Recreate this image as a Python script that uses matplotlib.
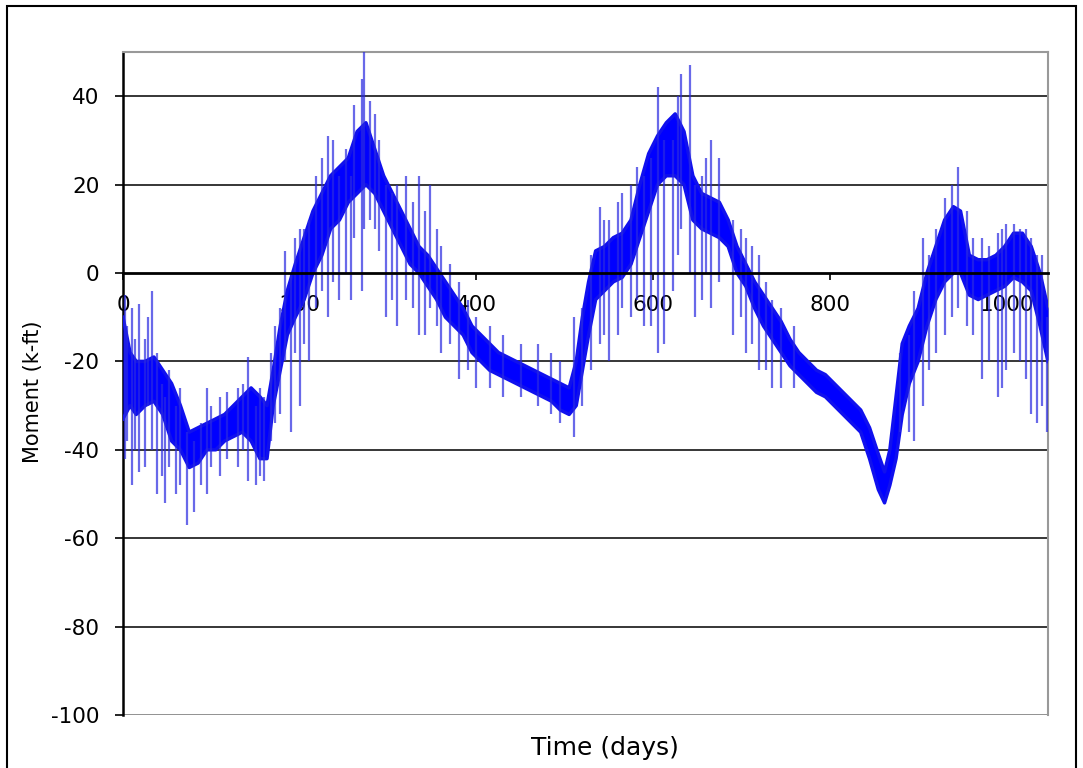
import numpy as np
import matplotlib
matplotlib.use("Agg")
import matplotlib.pyplot as plt
from matplotlib.patches import Rectangle

plt.rcParams['font.family'] = ['DejaVu Sans']
plt.rcParams['axes.unicode_minus'] = False

# envelope of the dense moment record
days = [0, 8, 15, 25, 35, 45, 55, 65, 75, 85, 95, 105, 115, 125, 135, 145, 155,
        163, 170, 178, 186, 195, 205, 215, 225, 235, 245, 255, 265, 275, 285,
        295, 305, 315, 325, 335, 345, 355, 365, 375, 385, 395, 405, 415, 425,
        435, 445, 455, 465, 475, 485, 495, 505, 513, 520, 527, 535, 545, 555,
        565, 575, 585, 595, 605, 615, 625, 635, 645, 655, 665, 675, 685, 695,
        705, 715, 725, 735, 745, 755, 765, 775, 785, 795, 805, 815, 825, 835,
        845, 855, 862, 868, 875, 882, 890, 900, 910, 920, 930, 940, 948, 958,
        968, 978, 988, 998, 1008, 1018, 1028, 1038, 1047]
lower = [-33, -30, -32, -30, -29, -32, -38, -40, -44, -43, -40, -40, -38, -37,
         -36, -38, -42, -42, -30, -22, -14, -10, -6, 0, 4, 10, 12, 16, 18, 20,
         18, 14, 10, 6, 2, 0, -3, -6, -10, -12, -14, -18, -20, -22, -23, -24,
         -25, -26, -27, -28, -29, -31, -32, -30, -22, -14, -6, -4, -2, -1, 2,
         8, 14, 20, 22, 22, 20, 12, 10, 9, 8, 6, 0, -3, -8, -12, -15, -18, -21,
         -23, -25, -27, -28, -30, -32, -34, -36, -42, -49, -52, -48, -42, -32,
         -25, -20, -12, -6, -2, 0, 0, -5, -6, -5, -4, -3, -1, -2, -4, -12, -20]
upper = [-10, -18, -20, -20, -19, -22, -25, -30, -36, -35, -34, -33, -32, -30,
         -28, -26, -28, -30, -22, -12, -4, 2, 8, 14, 18, 22, 24, 26, 32, 34,
         28, 22, 18, 14, 10, 6, 4, 1, -2, -5, -8, -12, -14, -16, -18, -19, -20,
         -21, -22, -23, -24, -25, -26, -20, -10, -2, 5, 6, 8, 9, 12, 20, 27,
         31, 34, 36, 32, 22, 18, 17, 16, 12, 6, 2, -2, -5, -8, -11, -15, -18,
         -20, -22, -23, -25, -27, -29, -31, -35, -41, -45, -40, -28, -16, -12,
         -8, 0, 6, 12, 15, 14, 4, 3, 3, 4, 6, 9, 9, 6, 0, -8]

# isolated spikes: day, low, high
spike_day = [2, 5, 10, 14, 18, 25, 28, 33, 38, 44, 48, 52, 60, 65, 72, 80, 88,
             95, 100, 110, 118, 130, 136, 142, 150, 155, 160, 168, 172, 178,
             183, 190, 195, 200, 205, 210, 218, 225, 232, 238, 245, 252, 258,
             262, 270, 273, 280, 285, 290, 298, 305, 310, 320, 328, 335, 342,
             348, 355, 360, 370, 380, 390, 400, 415, 430, 450, 470, 485, 495,
             510, 520, 530, 540, 545, 550, 560, 565, 575, 582, 590, 598, 605,
             612, 622, 628, 632, 642, 648, 655, 660, 665, 675, 690, 700, 705,
             712, 720, 728, 735, 745, 760, 880, 890, 895, 905, 912, 920, 930,
             938, 945, 955, 962, 972, 980, 990, 995, 1000, 1008, 1015, 1022,
             1028, 1035, 1040, 1046]
spike_low = [-42, -38, -48, -40, -45, -44, -30, -40, -50, -46, -52, -44, -50,
             -48, -57, -54, -48, -50, -44, -46, -42, -44, -40, -47, -48, -46,
             -47, -38, -34, -32, -20, -36, -18, -30, -16, -20, -8, -4, -10, -2,
             -6, 0, -6, 8, -4, 10, 12, 10, 5, -10, -6, -12, -6, -8, -14, -14,
             -8, -12, -18, -16, -24, -22, -26, -26, -28, -28, -30, -32, -34,
             -37, -30, -22, -16, -14, -20, -14, -8, -10, -6, -12, -12, -18, -16,
             -4, 4, 10, 0, -10, -6, 0, -8, -2, -14, -10, -18, -16, -22, -22,
             -26, -26, -26, -36, -36, -38, -30, -22, -18, -14, -10, -8, -12,
             -14, -24, -20, -28, -26, -22, -18, -20, -24, -32, -34, -30, -36]
spike_high = [-5, -12, -8, -15, -7, -15, -10, -4, -18, -25, -28, -22, -30, -26,
              -36, -38, -34, -26, -30, -28, -27, -26, -25, -19, -30, -26, -28,
              -18, -12, -8, 5, 0, 8, 10, 10, 12, 22, 26, 31, 30, 22, 28, 22,
              38, 44, 50, 39, 36, 30, 20, 18, 20, 22, 16, 22, 14, 20, 10, 6, 2,
              -2, -6, -10, -12, -14, -16, -16, -18, -20, -10, -8, 4, 15, 12, 12,
              16, 18, 20, 24, 22, 26, 42, 30, 30, 40, 45, 47, 20, 22, 26, 30,
              26, 12, 10, 8, 6, 4, -2, -6, -8, -12, -18, -14, -4, 8, 4, 10, 17,
              20, 24, 14, 8, 8, 6, 9, 10, 11, 11, 10, 10, 8, 4, 4, -10]

fig = plt.figure(figsize=(10.83, 7.68), dpi=100)
ax = fig.add_axes([123 / 1083, 1 - 715 / 768, 925 / 1083, 663 / 768])

ax.fill_between(days, lower, upper, color='#0000ff', lw=0, zorder=3)
ax.plot(days, lower, color='#1010ee', lw=2.5, zorder=3)
ax.plot(days, upper, color='#1010ee', lw=2.5, zorder=3)
ax.vlines(spike_day, spike_low, spike_high, color='#2a2ae0', lw=1.6,
          alpha=0.7, zorder=3)

ax.set_xlim(0, 1047)
ax.set_ylim(-100, 50)

for yv in [40, 20, -20, -40, -60, -80]:
    ax.axhline(yv, color='black', lw=1.1, zorder=1)
ax.axhline(-100, color='#888888', lw=2, zorder=1)

ax.spines['bottom'].set_position(('data', 0))
ax.spines['bottom'].set_linewidth(2)
ax.spines['bottom'].set_zorder(4)
ax.spines['left'].set_linewidth(1.8)
for s in ['top', 'right']:
    ax.spines[s].set_color('#999999')
    ax.spines[s].set_linewidth(1.5)

ax.set_xticks([0, 200, 400, 600, 800, 1000])
ax.set_yticks([-100, -80, -60, -40, -20, 0, 20, 40])
ax.tick_params(axis='x', direction='out', length=5, width=1.2, pad=11,
               labelsize=15.5)
ax.tick_params(axis='y', direction='out', length=6, width=1.2, pad=11,
               labelsize=15.5)

fig.text(605 / 1083, 1 - 748 / 768, 'Time (days)', ha='center', va='center',
         fontsize=18)
fig.text(33 / 1083, 1 - 392 / 768, 'Moment (k-ft)', ha='center', va='center',
         rotation=90, fontsize=15)

fig.patches.append(Rectangle((7 / 1083, -0.05), 1069 / 1083, 1.05 - 6 / 768,
                             transform=fig.transFigure, fill=False,
                             edgecolor='black', lw=1.5))

fig.savefig('out.png', dpi=100)
